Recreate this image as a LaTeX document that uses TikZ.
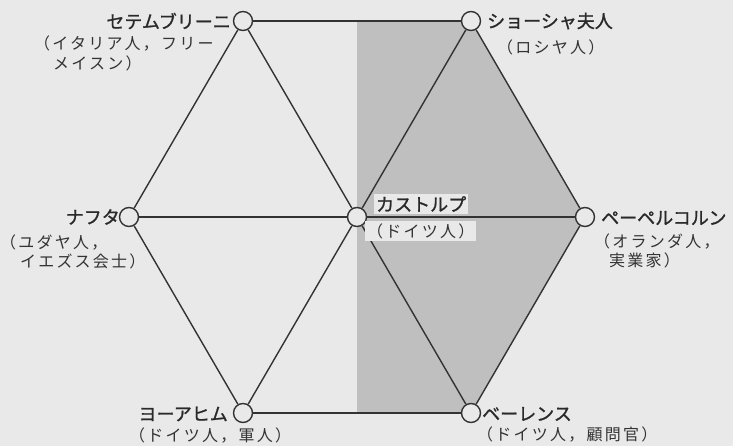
\documentclass[tikz,border=0pt]{standalone}
\usepackage{fontspec}
\newfontfamily\jpmain{Noto Sans CJK JP}[FakeBold=1.2]
\newfontfamily\jpsub{Noto Sans CJK JP}[LetterSpace=14]
\definecolor{paper}{HTML}{E9E9E9}
\definecolor{shadegray}{HTML}{BFBFBF}
\definecolor{ink}{HTML}{333333}
\begin{document}
\begin{tikzpicture}[x=1pt,y=-1pt,
  vtx/.style={circle,draw=ink,line width=1.4pt,fill=paper,minimum size=19pt,inner sep=0pt},
  edge/.style={draw=ink,line width=1.4pt},
  mainlbl/.style={inner sep=0pt,font=\jpmain\fontsize{18}{20}\selectfont,text=ink!80!black},
  sublbl/.style={inner sep=0pt,font=\jpsub\fontsize{16}{19}\selectfont,text=ink}]
\fill[paper] (0,0) rectangle (733,446);
\useasboundingbox (0,0) rectangle (733,446);
% shaded half
\fill[shadegray] (357,21) -- (471,21) -- (585,217) -- (471,413) -- (357,413) -- cycle;
% vertices
\node[vtx] (TL) at (243,21) {};
\node[vtx] (TR) at (471,21) {};
\node[vtx] (L) at (129,217) {};
\node[vtx] (C) at (357,217) {};
\node[vtx] (R) at (585,217) {};
\node[vtx] (BL) at (243,413) {};
\node[vtx] (BR) at (471,413) {};
% hexagon
\draw[edge] (TL) -- (TR);
\draw[edge] (TR) -- (R);
\draw[edge] (R) -- (BR);
\draw[edge] (BR) -- (BL);
\draw[edge] (BL) -- (L);
\draw[edge] (L) -- (TL);
% spokes
\draw[edge] (C) -- (TL);
\draw[edge] (C) -- (TR);
\draw[edge] (C) -- (L);
\draw[edge] (C) -- (R);
\draw[edge] (C) -- (BL);
\draw[edge] (C) -- (BR);
% labels
\node[mainlbl,anchor=east] (nTL) at (231,21) {セテムブリーニ};
\node[sublbl,anchor=west] (sTL1) at (34,44) {（イタリア人，フリー};
\node[sublbl,anchor=west] (sTL2) at (53,63) {メイスン）};
\node[mainlbl,anchor=west] (nTR) at (487,21) {ショーシャ夫人};
\node[sublbl,anchor=west] (sTR) at (497,47) {（ロシヤ人）};
\node[mainlbl,anchor=east] (nL) at (120,217) {ナフタ};
\node[sublbl,anchor=west] (sL1) at (0,243) {（ユダヤ人，};
\node[sublbl,anchor=west] (sL2) at (20,261) {イエズス会士）};
\node[mainlbl,anchor=west,fill=paper,inner sep=2pt] (nC) at (374,204) {カストルプ};
\node[sublbl,anchor=west,fill=paper,inner sep=2pt] (sC) at (365,231) {（ドイツ人）};
\node[mainlbl,anchor=west] (nR) at (601,218) {ペーペルコルン};
\node[sublbl,anchor=west] (sR1) at (594,242) {（オランダ人，};
\node[sublbl,anchor=west] (sR2) at (609,260) {実業家）};
\node[mainlbl,anchor=east] (nBL) at (228,414) {ヨーアヒム};
\node[sublbl,anchor=west] (sBL) at (129,436) {（ドイツ人，軍人）};
\node[mainlbl,anchor=west] (nBR) at (482,414) {ベーレンス};
\node[sublbl,anchor=west] (sBR) at (477,435) {（ドイツ人，顧問官）};
\end{tikzpicture}
\end{document}
